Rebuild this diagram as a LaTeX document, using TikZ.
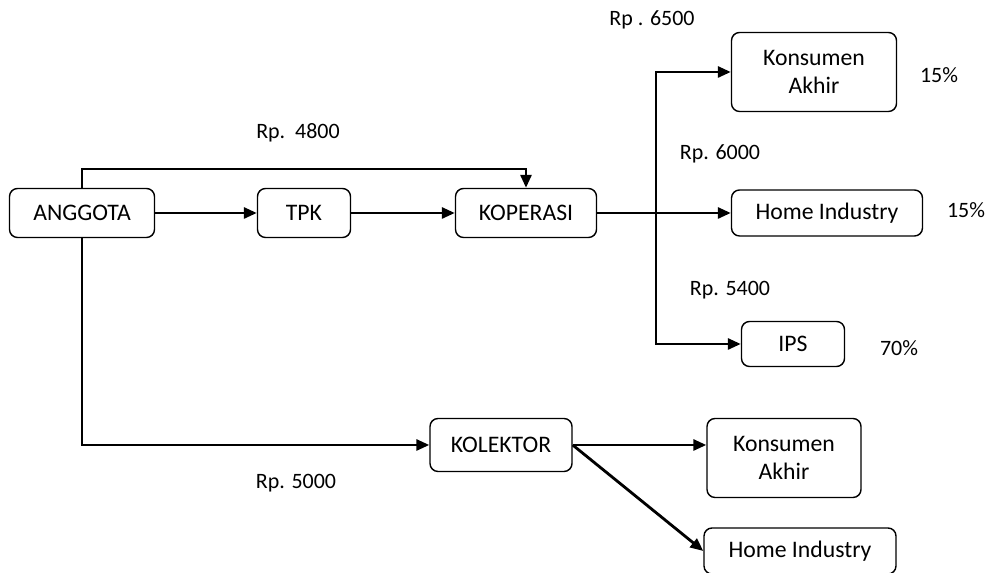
\documentclass[tikz,border=0pt]{standalone}
\usepackage{fontspec}
\setmainfont{Carlito}
\usetikzlibrary{arrows.meta}

\tikzset{
  box/.style={draw, line width=0.8pt, rounded corners=0.16cm, inner sep=0pt,
    align=center, font=\fontsize{13.5}{16}\selectfont},
  lbl/.style={font=\fontsize{12.5}{15}\selectfont},
  arr/.style={line width=1.6pt, -{Triangle[length=2.6mm,width=2.2mm]}}
}

\begin{document}
\begin{tikzpicture}[x=0.02cm, y=-0.02cm]
  \useasboundingbox (0,0) rectangle (988,573);

  % first chain
  \node[box, minimum width=2.9cm, minimum height=0.98cm] (ang) at (82,213) {ANGGOTA};
  \node[box, minimum width=1.86cm, minimum height=0.98cm] (tpk) at (304,213) {TPK};
  \node[box, minimum width=2.82cm, minimum height=0.98cm] (kop) at (526,213) {KOPERASI};

  % buyers of the koperasi
  \node[box, minimum width=3.3cm, minimum height=1.58cm] (ka) at (814,72) {Konsumen\\Akhir};
  \node[box, minimum width=3.82cm, minimum height=0.92cm] (hia) at (827,213) {Home Industry};
  \node[box, minimum width=2.06cm, minimum height=0.9cm] (ips) at (793,344) {IPS};

  % second chain
  \node[box, minimum width=2.84cm, minimum height=1.06cm] (kol) at (501,445) {KOLEKTOR};
  \node[box, minimum width=3.08cm, minimum height=1.58cm] (kb) at (784,458) {Konsumen\\Akhir};
  \node[box, minimum width=3.84cm, minimum height=0.92cm] (hib) at (800,551) {Home Industry};

  % prices and shares
  \node[lbl] (p4800) at (298,133) {Rp.\ \ 4800};
  \node[lbl] (p6500) at (652,20) {Rp . 6500};
  \node[lbl] (p6000) at (720,154) {Rp. 6000};
  \node[lbl] (p5400) at (730,290) {Rp. 5400};
  \node[lbl] (p5000) at (296,483) {Rp. 5000};
  \node[lbl] (s1) at (939,75) {15\%};
  \node[lbl] (s2) at (966,210) {15\%};
  \node[lbl] (s3) at (899,348) {70\%};

  % connectors
  \coordinate (top) at (300,169);
  \coordinate (jn) at (656,213);

  \draw[arr] (ang) -- (tpk);
  \draw[arr] (tpk) -- (kop);
  \draw[arr] (ang.north) |- (top) -| (kop.north);
  \draw[arr] (kop.east) -- (kop.east -| hia.west);
  \draw[arr] (jn) |- (ka.west);
  \draw[arr] (jn) |- (ips.west);

  \draw[arr] (ang.south) |- (kol.west);
  \draw[arr] (kol.east) -- (kol.east -| kb.west);
  \draw[arr] (kol.east) -- (hib.west);
\end{tikzpicture}
\end{document}
